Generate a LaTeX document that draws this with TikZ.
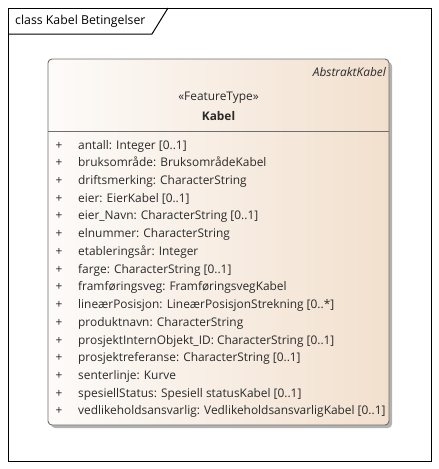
\documentclass[tikz,border=0pt]{standalone}
\usepackage{fontspec}
\setmainfont{Open Sans}
\usetikzlibrary{positioning}
\definecolor{boxL}{HTML}{FDFBF9}
\definecolor{boxR}{HTML}{F2E0CE}
\definecolor{edge}{HTML}{6E6E6E}
\definecolor{txt}{HTML}{2A2A2A}
\tikzset{
  attr/.style={anchor=base west, inner sep=0pt, font=\fontsize{11.9}{14}\selectfont, text=txt},
  plus/.style={anchor=base, inner sep=0pt, font=\fontsize{11.9}{14}\selectfont, text=txt},
}
\begin{document}
\begin{tikzpicture}[x=1pt,y=-1pt]
\useasboundingbox (0,0) rectangle (439,469);
\fill[white] (0,0) rectangle (439,469);
% frame
\draw[black, line width=1pt] (8,8) rectangle (431,461);
\draw[black, line width=1pt] (8,34) -- (152,34) -- (168,8);
\node[anchor=west, inner sep=0pt, font=\fontsize{12.3}{14}\selectfont, text=black] (title) at (15,21) {class Kabel Betingelser};
% shadow
\fill[black!30, rounded corners=4pt] (51,62) rectangle (392,428);
% class box
\shade[left color=boxL, right color=boxR, rounded corners=4pt] (48,59) rectangle (389,425);
\draw[edge, line width=0.9pt, rounded corners=4pt] (48,59) rectangle (389,425);
\draw[edge, line width=0.9pt] (48,131) -- (389,131);
\node[anchor=east, inner sep=0pt, font=\fontsize{11.9}{14}\selectfont\itshape, text=txt] (abs) at (386,72) {AbstraktKabel};
\node[inner sep=0pt, font=\fontsize{11.9}{14}\selectfont, text=txt] (st) at (218.5,98) {«FeatureType»};
\node[inner sep=0pt, font=\fontsize{11.9}{14}\selectfont\bfseries, text=txt] (nm) at (218.5,116) {Kabel};
\foreach \t [count=\i from 0] in {
  {antall: Integer [0..1]},
  {bruksområde: BruksområdeKabel},
  {driftsmerking: CharacterString},
  {eier: EierKabel [0..1]},
  {eier\_Navn: CharacterString [0..1]},
  {elnummer: CharacterString},
  {etableringsår: Integer},
  {farge: CharacterString [0..1]},
  {framføringsveg: FramføringsvegKabel},
  {lineærPosisjon: LineærPosisjonStrekning [0..*]},
  {produktnavn: CharacterString},
  {prosjektInternObjekt\_ID: CharacterString [0..1]},
  {prosjektreferanse: CharacterString [0..1]},
  {senterlinje: Kurve},
  {spesiellStatus: Spesiell statusKabel [0..1]},
  {vedlikeholdsansvarlig: VedlikeholdsansvarligKabel [0..1]}} {
  \node[plus] (p\i) at (59,149+17.73*\i) {+};
  \node[attr] (a\i) at (78,149+17.73*\i) {\t};
}
\end{tikzpicture}
\end{document}
